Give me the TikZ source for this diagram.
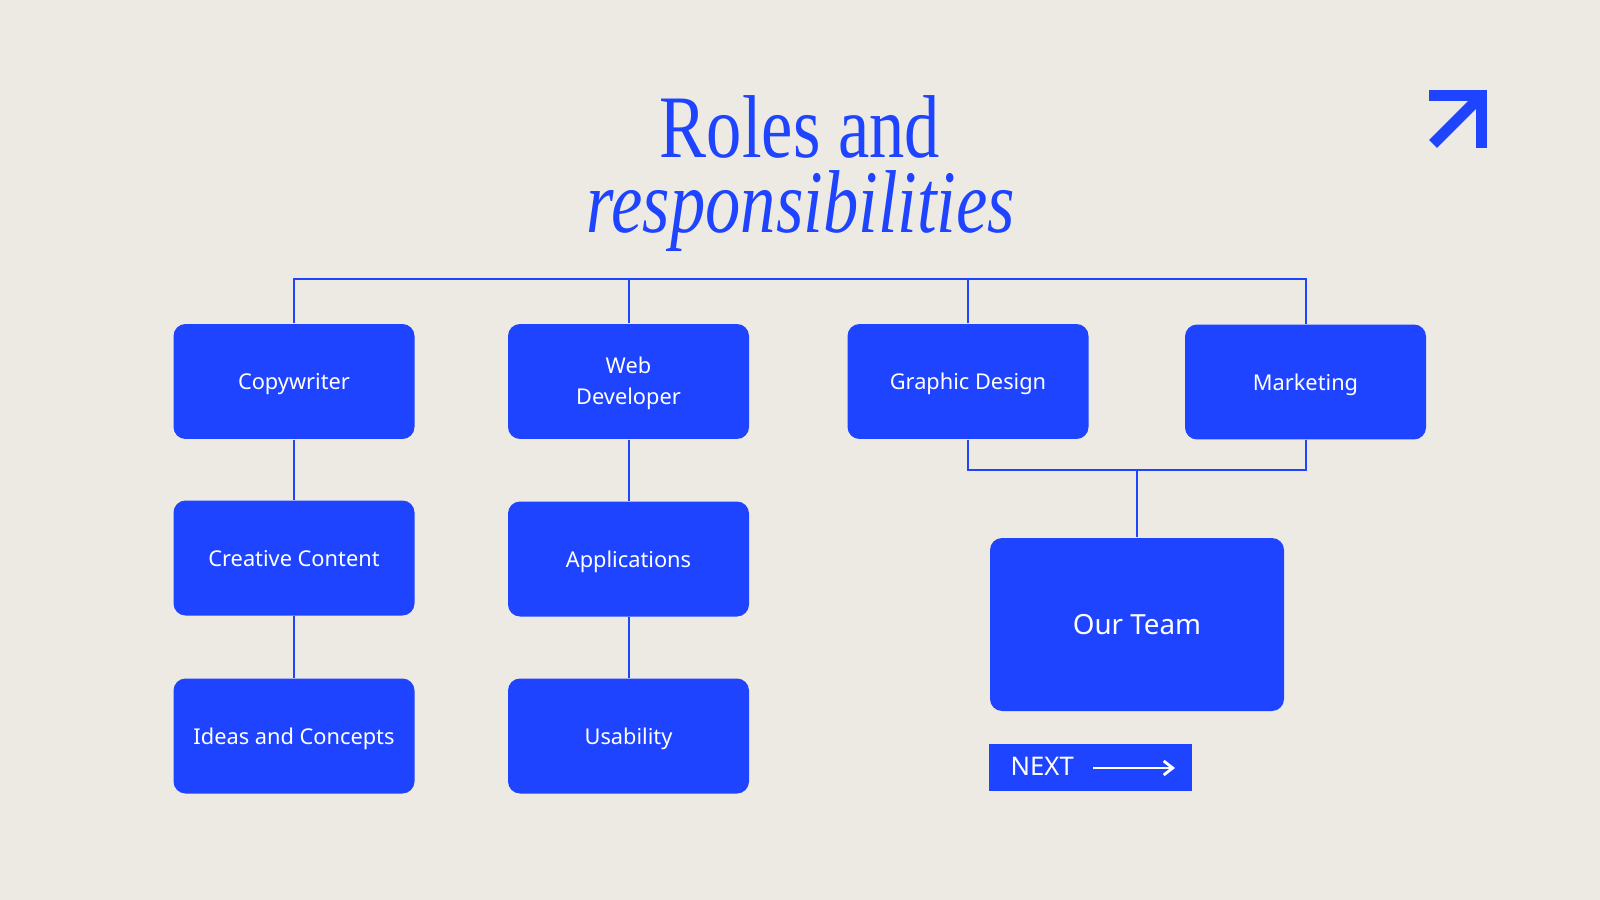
\documentclass[tikz,border=0pt]{standalone}
\usepackage{fontspec}
\setmainfont{Noto Sans}
\newfontfamily\titlefont[FakeStretch=0.79]{Liberation Serif}
\usetikzlibrary{arrows.meta}
\definecolor{bgc}{HTML}{EDEAE4}
\definecolor{bluec}{HTML}{1E44FF}
\tikzset{
  rolebox/.style={fill=bluec, rounded corners=1.2mm, minimum width=24.1mm, minimum height=11.5mm, inner sep=0pt, text=white, align=center, text depth=0pt, font=\fontsize{6.2}{8.7}\selectfont},
  teambox/.style={fill=bluec, rounded corners=1.2mm, minimum width=29.4mm, minimum height=17.3mm, inner sep=0pt, text=white, font=\fontsize{7.9}{10}\selectfont},
  nextbox/.style={fill=bluec, minimum width=20.3mm, minimum height=4.7mm, inner sep=0pt},
  conn/.style={draw=bluec, line width=0.2mm},
  titletext/.style={text=bluec, inner sep=0pt, anchor=base, font=\titlefont\fontsize{25.4}{30}\selectfont}
}
\begin{document}
\begin{tikzpicture}[x=0.1mm,y=-0.1mm]
\fill[bgc] (0,0) rectangle (1600,900);
\useasboundingbox (0,0) rectangle (1600,900);

% title
\node[titletext, text depth=0pt] (t1) at (800,158) {Roles and};
\node[titletext, text height=15pt] (t2) at (801,233) {\itshape responsibilities};

% corner arrow
\draw[bluec, line width=1.1mm, line join=miter] (1429,95.5) -- (1481.5,95.5) -- (1481.5,148);
\draw[bluec, line width=1.1mm] (1481,96) -- (1433,144);

% boxes
\node[rolebox] (copy) at (294,381.5) {Copywriter};
\node[rolebox, text depth=0.35pt] (web) at (628.5,381.5) {Web\\Developer};
\node[rolebox] (graph) at (968,381.5) {Graphic Design};
\node[rolebox] (mark) at (1305.5,382) {Marketing};
\node[rolebox] (creat) at (294,558) {Creative Content};
\node[rolebox] (apps) at (628.5,559) {Applications};
\node[rolebox] (ideas) at (294,736) {Ideas and Concepts};
\node[rolebox] (usab) at (628.5,736) {Usability};
\node[teambox] (team) at (1137,624.5) {Our Team};

% connectors
\coordinate (busy) at (0,279.5);
\coordinate (lowy) at (0,470);
\draw[conn] (copy.north) -- (copy.north |- busy) -- (mark.north |- busy) -- (mark.north);
\draw[conn] (web.north) -- (web.north |- busy);
\draw[conn] (graph.north) -- (graph.north |- busy);
\draw[conn] (graph.south) -- (graph.south |- lowy) -- (mark.south |- lowy) -- (mark.south);
\draw[conn] (team.north) -- (team.north |- lowy);
\draw[conn] (copy.south) -- (creat.north);
\draw[conn] (creat.south) -- (ideas.north);
\draw[conn] (web.south) -- (apps.north);
\draw[conn] (apps.south) -- (usab.north);

% next button
\node[nextbox] (next) at (1090.7,767) {};
\node[anchor=base west, inner sep=0pt, text=white, font=\fontsize{7.3}{9}\selectfont] (nexttxt) at (1010,775.5) {NEXT};
\coordinate (arrS) at (1093,768);
\coordinate (arrE) at (1175,768);
\draw[white, line width=0.28mm, -{Straight Barb[length=0.9mm,width=1.4mm]}] (arrS) -- (arrE);
\end{tikzpicture}
\end{document}
